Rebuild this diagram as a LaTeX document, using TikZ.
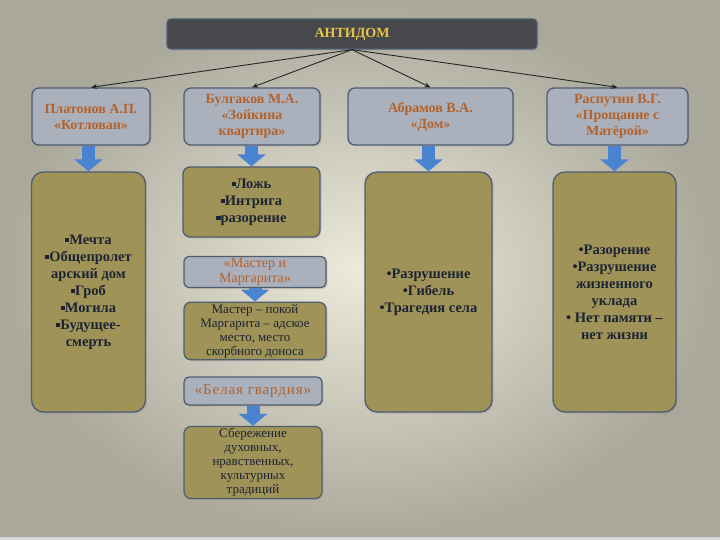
\documentclass[tikz,border=0pt]{standalone}
\usepackage{fontspec}
\setmainfont{Liberation Serif}
\usetikzlibrary{arrows.meta}
\usetikzlibrary{shadows}

\definecolor{olivebox}{RGB}{160,147,88}
\definecolor{greybox}{RGB}{170,177,188}
\definecolor{boxline}{RGB}{78,94,112}
\definecolor{titlebox}{RGB}{70,72,76}
\definecolor{titletext}{RGB}{232,196,70}
\definecolor{hdrtext}{RGB}{180,98,44}
\definecolor{darktext}{RGB}{28,36,51}
\definecolor{bluearrow}{RGB}{74,132,208}
\definecolor{bginner}{RGB}{236,234,218}
\definecolor{bgouter}{RGB}{170,168,155}

\newcommand{\sq}{\raisebox{0.18em}{\rule{0.28em}{0.28em}}}

\tikzset{
  base/.style={rounded corners=7pt, line width=1.3pt, draw=boxline, align=center,
    inner sep=2pt, drop shadow={opacity=0.25, shadow xshift=1.5pt, shadow yshift=-1.5pt}},
  hdr/.style={base, fill=greybox, text=hdrtext, minimum height=57pt,
    font=\bfseries\fontsize{14}{16}\selectfont},
  col/.style={base, fill=olivebox, text=darktext, rounded corners=12pt,
    minimum height=240pt, font=\bfseries\fontsize{14.5}{17}\selectfont},
  small/.style={base, fill=olivebox, text=darktext,
    font=\fontsize{13}{14}\selectfont},
  sub/.style={base, fill=greybox, text=hdrtext, rounded corners=5pt,
    font=\fontsize{14}{15}\selectfont},
  thinarr/.style={-{Stealth[length=6pt, width=5pt]}, line width=0.9pt, black!85},
  bluearr/.style={-{Triangle[length=12pt, width=28pt]}, line width=13pt, bluearrow}
}

\begin{document}
\begin{tikzpicture}[x=1pt, y=-1pt]
% fond
\shade[inner color=bginner, outer color=bgouter] (0,0) rectangle (720,540);
\fill[gray!30] (0,537) rectangle (720,540);
\useasboundingbox (0,0) rectangle (720,540);

% titolo
\node[base, fill=titlebox, text=titletext, rounded corners=4pt,
  minimum width=370pt, minimum height=30pt,
  font=\bfseries\fontsize{14}{15}\selectfont] (title) at (352,34) {АНТИДОМ};

% autori
\node[hdr, minimum width=118pt] (plat) at (91,116.5) {Платонов А.П.\\«Котлован»};
\node[hdr, minimum width=136pt] (bulg) at (252,116.5) {Булгаков М.А.\\«Зойкина\\квартира»};
\node[hdr, minimum width=165pt] (abr) at (430.5,116.5) {Абрамов В.А.\\«Дом»};
\node[hdr, minimum width=141pt] (rasp) at (617.5,116.5) {Распутин В.Г.\\«Прощание с\\Матёрой»};

% colonne
\node[col, minimum width=114pt] (kotl) at (88.5,292)
  {\sq Мечта\\\sq Общепролет\\арский дом\\\sq Гроб\\\sq Могила\\\sq Будущее-\\смерть};
\node[col, minimum width=127pt] (dom) at (428.5,292)
  {•Разрушение\\•Гибель\\•Трагедия села};
\node[col, minimum width=123pt] (mat) at (614.5,292)
  {•Разорение\\•Разрушение\\жизненного\\уклада\\• Нет памяти –\\нет жизни};

% Булгаков
\node[small, minimum width=137pt, minimum height=70pt,
  font=\bfseries\fontsize{14.5}{17}\selectfont] (zoik) at (251.5,202)
  {\sq Ложь\\\sq Интрига\\\sq разорение};
\node[sub, minimum width=142pt, minimum height=29pt] (mm) at (255,272) {«Мастер и\\Маргарита»};
\node[small, minimum width=142pt, minimum height=57pt] (mmtxt) at (255,331)
  {Мастер – покой\\Маргарита – адское\\место, место\\скорбного доноса};
\node[sub, minimum width=138pt, minimum height=28pt,
  font=\fontsize{15}{16}\selectfont\addfontfeature{LetterSpace=6}] (bg) at (253,391) {«Белая гвардия»};
\node[small, minimum width=138pt, minimum height=69pt] (bgtxt) at (253,462.5)
  {Сбережение\\духовных,\\нравственных,\\культурных\\традиций};

% frecce
\foreach \h in {plat, bulg, abr, rasp} {
  \draw[thinarr] (title.south) -- (\h.north);
}
\foreach \h/\b in {plat/kotl, bulg/zoik, abr/dom, rasp/mat, mm/mmtxt, bg/bgtxt} {
  \draw[bluearr] (\b.north |- \h.south) -- (\b.north);
}
\end{tikzpicture}
\end{document}
